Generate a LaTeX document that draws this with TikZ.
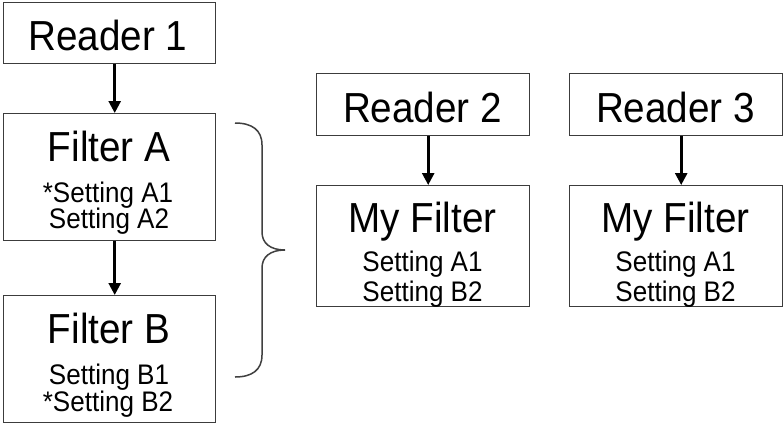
\documentclass[tikz,border=0pt]{standalone}
\usepackage{fontspec}
\setmainfont{Liberation Sans}[FakeStretch=0.92]
\usetikzlibrary{arrows.meta}
\definecolor{boxgray}{HTML}{3C3C3C}
\definecolor{bracegray}{HTML}{404040}
\tikzset{
  box/.style={draw=boxgray, line width=1.4pt, inner sep=0pt, anchor=north west, fill=white},
  titletext/.style={anchor=base, inner sep=0pt, font=\fontsize{42}{42}\selectfont},
  settext/.style={anchor=base, inner sep=0pt, font=\fontsize{28.3}{28.3}\selectfont},
  flow/.style={line width=2.6pt, -{Triangle[width=12pt,length=12pt]}},
  bracestyle/.style={draw=bracegray, line width=1.5pt}
}
\begin{document}
\begin{tikzpicture}[x=1pt,y=1pt]
\useasboundingbox[fill=white] (0,0) rectangle (784,-426);
% left column
\node[box, minimum width=212pt, minimum height=61pt] (r1) at (3,-2) {};
\node[box, minimum width=212pt, minimum height=127pt] (fa) at (3,-113) {};
\node[box, minimum width=212pt, minimum height=127pt] (fb) at (3,-295) {};
\node[titletext] (r1t) at (108,-50.5) {Reader 1};
\node[titletext] (fat) at (109,-161) {Filter A};
\node[settext] (fa1) at (108,-202) {*Setting A1};
\node[settext] (fa2) at (109,-228) {Setting A2};
\node[titletext] (fbt) at (109,-343) {Filter B};
\node[settext] (fb1) at (109,-384) {Setting B1};
\node[settext] (fb2) at (108,-411) {*Setting B2};
\draw[flow] ([xshift=5pt]r1.south) -- ([xshift=5pt]fa.north);
\draw[flow] ([xshift=5pt]fa.south) -- ([xshift=5pt]fb.north);
% brace
\draw[bracestyle] (235,-123) .. controls (252,-123) and (262,-130) .. (262,-145)
  -- (262,-232) .. controls (262,-243) and (270,-250) .. (285,-250)
  .. controls (270,-250) and (262,-257) .. (262,-268)
  -- (262,-355) .. controls (262,-370) and (252,-377) .. (235,-377);
% reader 2
\node[box, minimum width=213pt, minimum height=62pt] (r2) at (316,-73) {};
\node[box, minimum width=213pt, minimum height=121pt] (m2) at (316,-185) {};
\node[titletext] (r2t) at (422.5,-122) {Reader 2};
\node[titletext] (m2t) at (422.5,-232) {My Filter};
\node[settext] (m2a) at (422.5,-271) {Setting A1};
\node[settext] (m2b) at (422.5,-301) {Setting B2};
\draw[flow] ([xshift=5pt]r2.south) -- ([xshift=5pt]m2.north);
% reader 3
\node[box, minimum width=213pt, minimum height=62pt] (r3) at (569,-73) {};
\node[box, minimum width=213pt, minimum height=121pt] (m3) at (569,-185) {};
\node[titletext] (r3t) at (675.5,-122) {Reader 3};
\node[titletext] (m3t) at (675.5,-232) {My Filter};
\node[settext] (m3a) at (675.5,-271) {Setting A1};
\node[settext] (m3b) at (675.5,-301) {Setting B2};
\draw[flow] ([xshift=5pt]r3.south) -- ([xshift=5pt]m3.north);
\end{tikzpicture}
\end{document}
